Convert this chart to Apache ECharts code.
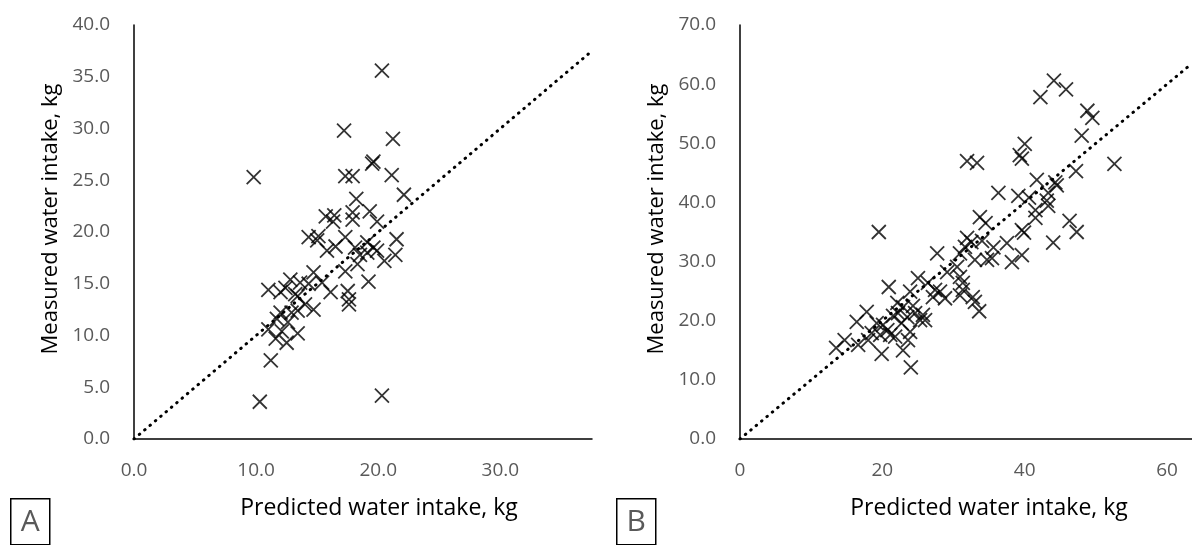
<!DOCTYPE html>
<html>
<head>
<meta charset="utf-8">
<script src="https://cdn.jsdelivr.net/npm/echarts@6/dist/echarts.min.js"></script>
<style>
  html, body { margin: 0; padding: 0; background: #fff; }
  #chart { width: 1192px; height: 545px; }
</style>
</head>
<body>
<div id="chart"></div>
<script>
// panel A
const predA = [9.8, 10.3, 20.3, 20.3, 17.2, 21.2, 19.5, 19.6, 17.3, 17.9, 21.1, 22.1, 18.2, 19.3, 17.9, 15.7,
  16.4, 19.9, 17.9, 16.3, 14.3, 15.1, 17.3, 21.5, 15.8, 16.5, 19.1, 19.6, 18.1, 19.9, 20.5, 21.4, 19.1, 18.3,
  17.3, 19.2, 14.7, 15.4, 16.1, 17.5, 17.6, 17.6, 11.0, 12.0, 12.4, 12.8, 13.6, 14.3, 13.4, 14.0, 14.7, 13.4,
  12.0, 12.9, 11.7, 11.0, 12.1, 13.4, 11.6, 12.5, 11.2, 15.0, 13.2, 12.6, 18.5]
const measA = [25.3, 3.6, 4.2, 35.6, 29.8, 29.0, 26.6, 26.8, 25.4, 25.4, 25.5, 23.6, 23.2, 22.0, 21.9, 21.5,
  21.6, 21.0, 21.2, 21.0, 19.5, 19.6, 19.5, 19.3, 18.2, 18.6, 19.0, 18.5, 18.5, 18.2, 17.2, 17.8, 18.0, 16.9,
  16.2, 15.2, 16.1, 15.1, 14.2, 14.3, 13.5, 13.0, 14.4, 14.2, 14.6, 15.4, 15.1, 15.0, 13.8, 13.0, 12.5, 12.4,
  12.2, 12.2, 11.6, 10.6, 10.4, 10.2, 9.7, 9.3, 7.6, 19.2, 14.0, 11.3, 17.8]

// panel B
const predB = [44.1, 45.8, 42.2, 48.8, 49.5, 48.0, 40.0, 39.3, 39.6, 31.9, 33.3, 52.6, 47.2, 41.7, 44.3, 44.5,
  43.3, 36.3, 39.1, 40.6, 43.1, 43.3, 41.5, 41.5, 33.7, 34.5, 46.3, 47.3, 39.6, 39.9, 19.5, 44.0, 37.5, 31.9,
  32.5, 34.0, 35.6, 38.2, 39.6, 27.7, 30.9, 31.6, 33.0, 34.7, 35.4, 30.5, 29.1, 25.0, 26.4, 30.9, 31.3, 31.3,
  20.9, 23.9, 27.4, 28.1, 27.1, 28.8, 30.9, 32.7, 33.0, 33.6, 22.1, 22.9, 17.8, 16.4, 22.2, 23.5, 24.6, 25.7,
  25.3, 26.0, 20.7, 19.7, 21.1, 21.8, 23.9, 23.6, 18.5, 18.0, 14.7, 13.5, 16.6, 19.9, 22.9, 24.0, 20.1, 19.2,
  22.7, 24.3, 21.5]
const measB = [60.6, 59.1, 57.8, 55.5, 54.3, 51.3, 49.9, 48.0, 47.4, 47.0, 46.7, 46.5, 45.3, 43.8, 43.4, 42.9,
  41.6, 41.6, 41.1, 40.8, 40.3, 39.4, 38.7, 37.4, 37.5, 36.5, 36.9, 35.0, 35.3, 34.9, 35.0, 33.2, 33.1, 34.0,
  33.3, 33.5, 32.4, 29.9, 31.1, 31.4, 31.4, 32.5, 30.3, 30.3, 30.6, 29.1, 28.2, 27.2, 26.4, 27.4, 26.4, 25.2,
  25.7, 24.9, 25.2, 24.9, 24.0, 23.8, 24.3, 24.0, 23.2, 21.6, 23.0, 22.3, 21.5, 19.8, 21.3, 20.6, 21.3, 21.0,
  20.1, 20.1, 18.4, 17.6, 17.6, 17.3, 18.1, 16.7, 17.9, 16.7, 16.7, 15.4, 15.9, 14.4, 15.0, 12.1, 19.3, 19.6,
  19.6, 22.5, 20.8]

// axis ranges (B is cut at the right edge of the picture)
const xMaxA = 37.5, yMaxA = 40, xStepA = 10, yStepA = 5
const xMaxB = 63.5, yMaxB = 70, xStepB = 20, yStepB = 10

const font = '"Open Sans", "Noto Sans", sans-serif'
const grey = '#595959'
const cross = 'path://M0,0L10,10M0,10L10,0'

function zip(a, b) { return a.map((v, i) => [v, b[i]]) }

function xAxis(idx, max, step, fmt, shift) {
  return {
    type: 'value', gridIndex: idx, min: 0, max: max, interval: step,
    name: 'Predicted water intake, kg', nameLocation: 'middle', nameGap: 58,
    nameTextStyle: { fontFamily: font, fontSize: 23, color: '#000', padding: [0, 0, 0, shift] },
    axisLine: { show: true, lineStyle: { color: '#000', width: 1.5 } },
    axisTick: { show: false }, splitLine: { show: false },
    axisLabel: { fontFamily: font, fontSize: 19, color: grey, margin: 22, showMaxLabel: false, formatter: fmt }
  }
}
function yAxis(idx, max, step) {
  return {
    type: 'value', gridIndex: idx, min: 0, max: max, interval: step,
    name: 'Measured water intake, kg', nameLocation: 'middle', nameGap: 72, nameRotate: 90,
    nameTextStyle: { fontFamily: font, fontSize: 22, color: '#000', padding: [0, 0, 0, 26] },
    axisLine: { show: true, lineStyle: { color: '#000', width: 1.5 } },
    axisTick: { show: false }, splitLine: { show: false },
    axisLabel: { fontFamily: font, fontSize: 19, color: grey, margin: 24, formatter: v => v.toFixed(1) }
  }
}
function scatter(idx, data) {
  return {
    type: 'scatter', xAxisIndex: idx, yAxisIndex: idx, data: data,
    symbol: cross, symbolSize: 14,
    itemStyle: { color: '#000', borderColor: '#000', borderWidth: 1.8 },
    silent: true, z: 3
  }
}
function oneToOne(idx, max) {
  return {
    type: 'line', xAxisIndex: idx, yAxisIndex: idx, data: [[0, 0], [max, max]],
    symbol: 'none', silent: true, z: 2,
    lineStyle: { color: '#000', width: 3, type: [0.5, 6.5], cap: 'round' }
  }
}
function panelTag(x, letter) {
  return {
    type: 'group', left: x, top: 498,
    children: [
      { type: 'rect', shape: { x: 0, y: 0, width: 39, height: 46 }, style: { fill: '#fff', stroke: '#000', lineWidth: 1.5 } },
      { type: 'text', x: 19.5, y: 24, style: { text: letter, fontFamily: font, fontSize: 30, fill: grey, align: 'center', verticalAlign: 'middle' } }
    ]
  }
}

let chart = echarts.init(document.getElementById('chart'))
chart.setOption({
  animation: false,
  backgroundColor: '#fff',
  grid: [
    { left: 134, top: 25, width: 458, height: 414 },
    { left: 740, top: 25, width: 452, height: 414 }
  ],
  xAxis: [
    xAxis(0, xMaxA, xStepA, v => v.toFixed(1), 32),
    xAxis(1, xMaxB, xStepB, v => String(v), 46)
  ],
  yAxis: [yAxis(0, yMaxA, yStepA), yAxis(1, yMaxB, yStepB)],
  series: [
    oneToOne(0, xMaxA), scatter(0, zip(predA, measA)),
    oneToOne(1, xMaxB), scatter(1, zip(predB, measB))
  ],
  graphic: [panelTag(10, 'A'), panelTag(616, 'B')]
})
</script>
</body>
</html>
